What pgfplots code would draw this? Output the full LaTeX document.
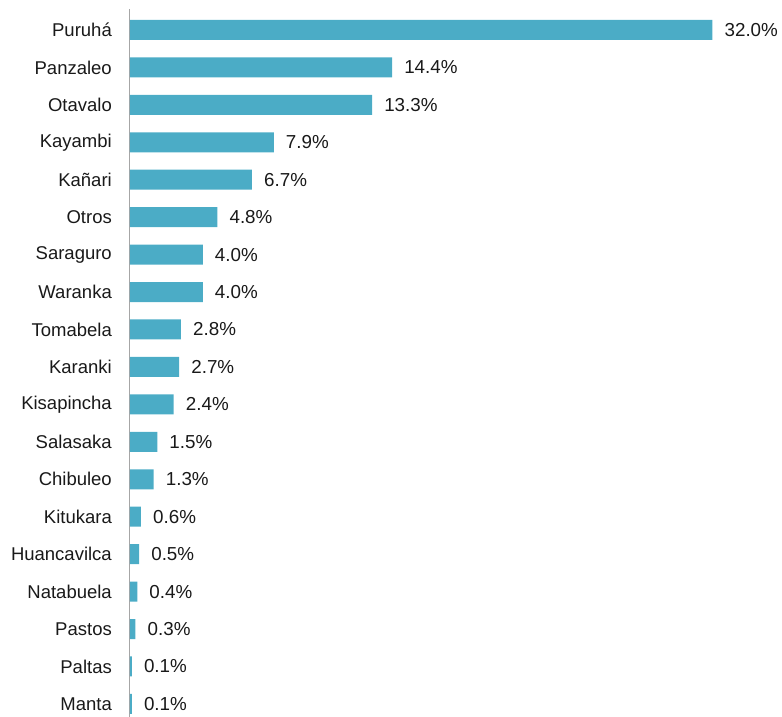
\documentclass[border=0pt]{standalone}
\usepackage{fontspec}
\setmainfont{Liberation Sans}
\usepackage{pgfplots}
\usepackage{pgfplotstable}
\pgfplotsset{compat=1.18}
\definecolor{barc}{HTML}{4BACC6}
\pgfplotstableread{
idx val
0 32.0
1 14.4
2 13.3
3 7.9
4 6.7
5 4.8
6 4.0
7 4.0
8 2.8
9 2.7
10 2.4
11 1.5
12 1.3
13 0.6
14 0.5
15 0.4
16 0.3
17 0.1
18 0.1
}\data
\begin{document}
\begin{tikzpicture}[x=1pt,y=1pt]
\begin{axis}[
  at={(0,0)}, anchor=south west,
  scale only axis, width=637pt, height=708pt,
  xmin=0, xmax=35, ymin=-0.56, ymax=18.35, y dir=reverse,
  axis x line=none, axis y line*=left,
  y axis line style={draw=black!35, line width=1pt, -},
  ytick={0,...,18},
  yticklabels={Puruhá,Panzaleo,Otavalo,Kayambi,Kañari,Otros,Saraguro,Waranka,Tomabela,Karanki,Kisapincha,Salasaka,Chibuleo,Kitukara,Huancavilca,Natabuela,Pastos,Paltas,Manta},
  major tick length=0pt, ytick style={draw=none},
  yticklabel style={font=\fontsize{18.5}{21}\selectfont, text=black!90, inner sep=0pt},
  yticklabel shift=18pt,
  /pgf/number format/assume math mode=true,
  xbar, bar width=20pt,
  nodes near coords={\pgfmathprintnumber[fixed,fixed zerofill,precision=1]{\pgfplotspointmeta}\%},
  nodes near coords style={anchor=west, inner sep=0pt, xshift=12pt, font=\fontsize{18.8}{21}\selectfont, text=black!90},
]
\addplot[fill=barc, draw=none] table[x=val,y=idx]{\data};
\end{axis}
\pgfresetboundingbox
\path (-130pt,0) rectangle (652pt,717pt);
\end{tikzpicture}
\end{document}
